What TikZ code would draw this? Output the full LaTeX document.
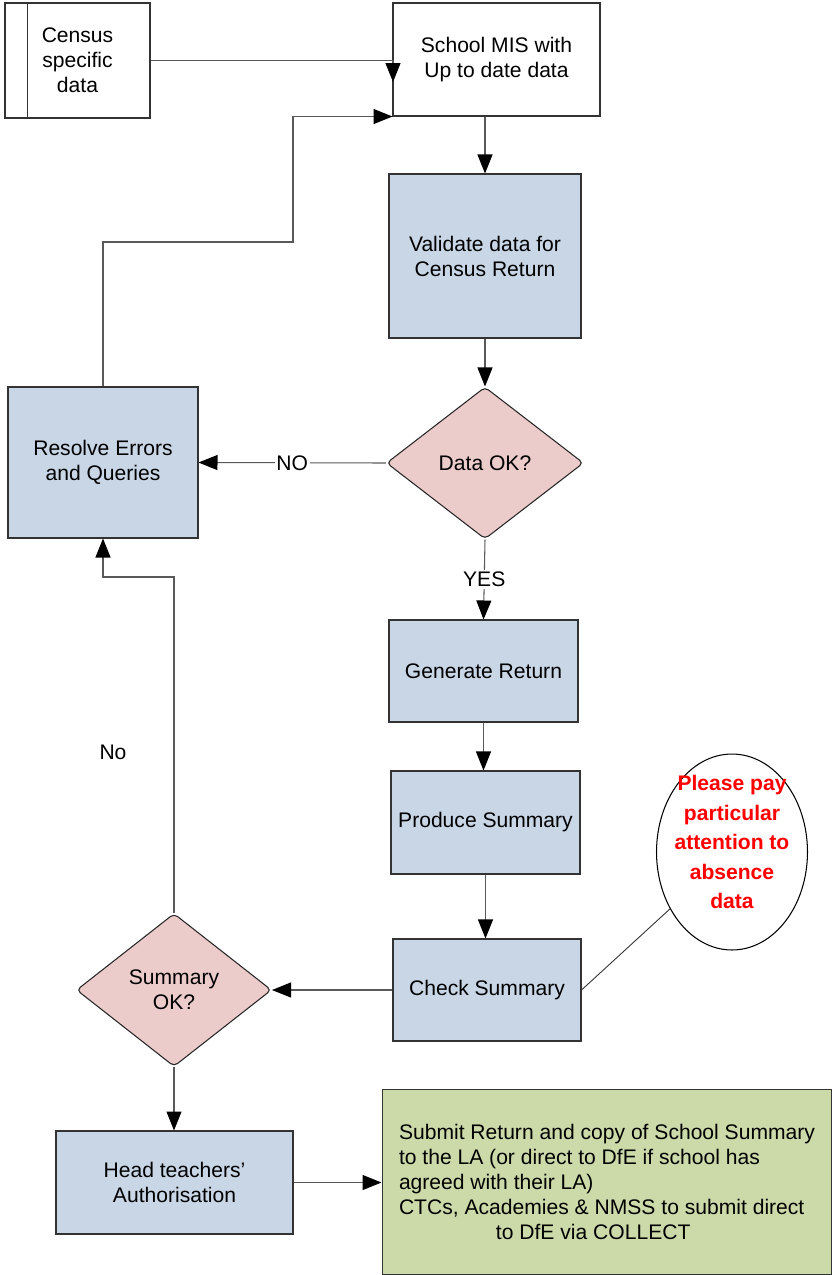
\documentclass[tikz,border=0pt]{standalone}
\usepackage{fontspec}
\setmainfont{Liberation Sans}
\usetikzlibrary{shapes.geometric,arrows.meta}

\definecolor{procblue}{HTML}{C8D6E6}
\definecolor{decpink}{HTML}{ECCBCB}
\definecolor{submitgreen}{HTML}{CCDAA9}
\definecolor{notered}{HTML}{FF0000}

\begin{document}
\begin{tikzpicture}[x=0.02cm, y=-0.02cm,
		font=\fontsize{12}{14.2}\selectfont,
		box/.style={draw=black!80, line width=0.6pt, inner sep=0pt, align=center},
		proc/.style={box, fill=procblue, minimum width=3.8cm, minimum height=2.04cm},
		decision/.style={diamond, draw=black!85, line width=0.6pt, fill=decpink, rounded corners=2.5pt, minimum width=3.94cm, minimum height=3.04cm, inner sep=0pt, align=center},
		flow/.style={draw=black!65, line width=0.6pt, -{Triangle[length=0.38cm, width=0.3cm, color=black]}},
		plain/.style={draw=black!80, line width=0.5pt},
		lbl/.style={fill=white, inner sep=1pt}]
			\useasboundingbox (0,0) rectangle (832,1275);
			
			% top row
			\node[box, minimum width=2.9cm, minimum height=2.3cm] (census) at (77.5,60.5) {Census\\specific\\data};
			\draw[plain] ([xshift=0.46cm]census.north west) -- ([xshift=0.46cm]census.south west);
			\node[box, minimum width=4.14cm, minimum height=2.26cm] (mis) at (496.5,59.5) {School MIS with\\Up to date data};
			
			% main column
			\node[proc, minimum width=3.84cm, minimum height=3.28cm] (validate) at (485,256) {Validate data for\\Census Return};
			\node[decision] (dataok) at (485,463) {Data OK?};
			\node[proc, minimum height=3.02cm] (resolve) at (103,462.5) {Resolve Errors\\and Queries};
			\node[proc, minimum width=3.78cm] (generate) at (483.5,671) {Generate Return};
			\node[proc, minimum width=3.78cm, minimum height=2.06cm] (produce) at (485.5,822.5) {Produce Summary};
			\node[proc, minimum width=3.76cm] (check) at (487,990) {Check Summary};
			\node[ellipse, draw=black, line width=0.6pt, minimum width=3.02cm, minimum height=3.92cm, inner sep=0pt] (note) at (732,852) {};
			\node[text=notered, font=\fontsize{12}{16.8}\selectfont\bfseries, align=center] (notetext) at ([yshift=0.2cm]note) {Please pay\\particular\\attention to\\absence\\data};
			
			% bottom
			\node[decision, minimum width=3.9cm, minimum height=3.06cm] (sumok) at (174,990) {Summary\\OK?};
			\node[proc, minimum width=4.74cm, minimum height=2.06cm] (head) at (174.5,1182.5) {Head teachers'\\Authorisation};
			\node[box, fill=submitgreen, minimum width=9cm, minimum height=3.72cm, align=left] (submit) at (607,1182) {Submit Return and copy of School Summary\\ to the LA (or direct to DfE if school has\\ agreed with their LA)\\ CTCs, Academies \& NMSS to submit direct\\\hspace*{1.94cm}to DfE via COLLECT};
			\node (nolbl) at (113,752) {No};
			
			\coordinate (censusin) at (393,82);
			\coordinate (fbjog) at (293,242);
			\coordinate (nojog) at (103,577);
			
			\draw[flow] (census.east) -| (censusin);
			\draw[flow] (resolve.north) |- (fbjog) |- (mis.south west);
			\draw[flow] (validate.north |- mis.south) -- (validate.north);
			\draw[flow] (validate.south) -- (dataok.north);
			\draw[flow] (dataok.west) -- node[lbl]{NO} (resolve.east);
			\draw[flow] (dataok.south) -- node[lbl]{YES} (generate.north);
			\draw[flow] (generate.south) -- (produce.north -| generate.south);
			\draw[flow] (produce.south) -- (check.north -| produce.south);
			\draw[flow] (check.west) -- (sumok.east);
			\draw[plain] (check.east) -- (note);
			\draw[flow] (sumok.north) |- (nojog) -- (resolve.south);
			\draw[flow] (sumok.south) -- (head.north -| sumok.south);
			\draw[flow] (head.east) -- (submit.west |- head.east);
		\end{tikzpicture}
\end{document}
